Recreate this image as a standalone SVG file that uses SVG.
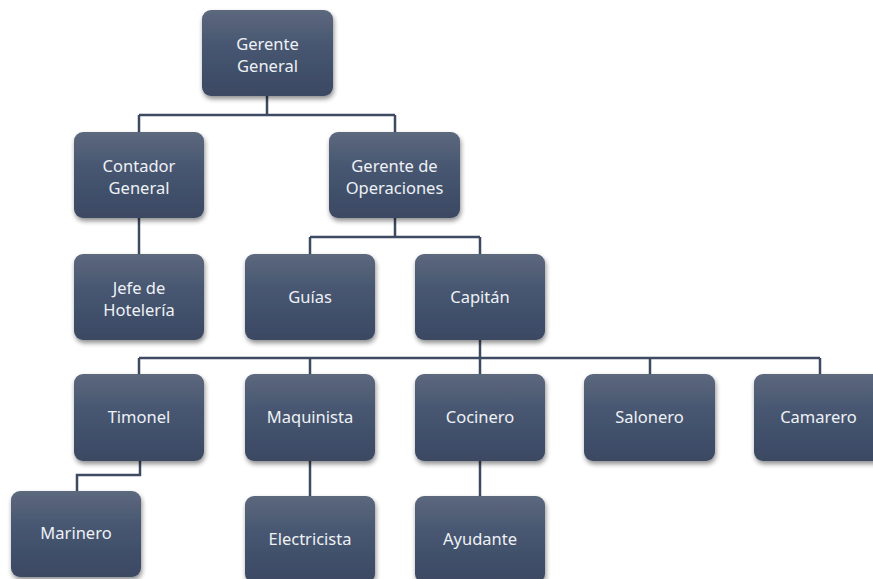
<svg xmlns="http://www.w3.org/2000/svg" width="873" height="579" viewBox="0 0 873 579">
<defs>
<linearGradient id="g" x1="0" y1="0" x2="0" y2="1">
<stop offset="0" stop-color="#5c687d"/>
<stop offset="0.45" stop-color="#465570"/>
<stop offset="1" stop-color="#3b4963"/>
</linearGradient>
<filter id="sh" x="-20%" y="-20%" width="140%" height="140%">
<feGaussianBlur in="SourceAlpha" stdDeviation="2.5"/>
<feOffset dx="1" dy="3" result="b"/>
<feComponentTransfer><feFuncA type="linear" slope="0.45"/></feComponentTransfer>
<feMerge><feMergeNode/><feMergeNode in="SourceGraphic"/></feMerge>
</filter>
</defs>
<style>
.box{fill:url(#g);filter:url(#sh)}
.t{font-family:"Noto Sans","Open Sans",sans-serif;font-size:16.5px;fill:#eef1f5;text-anchor:middle}
.c{fill:none;stroke:#3d4a62;stroke-width:2.5}
</style>
<rect width="873" height="579" fill="#ffffff"/>
<g id="connectors">
<path class="c" d="M267 96V115M139 115H395M139 115V132M395 115V132"/>
<path class="c" d="M139 218V254"/>
<path class="c" d="M395 218V237M310 237H480M310 237V254M480 237V254"/>
<path class="c" d="M480 340V358M139 358H820M139 358V374M310 358V374M480 358V374M650 358V374M820 358V374"/>
<path class="c" d="M140 461V475H77V491"/>
<path class="c" d="M310 461V496M480 461V496"/>
</g>
<g id="gerente-general"><rect class="box" x="202" y="10" width="131" height="86" rx="9"/><text class="t" x="267.5" y="50">Gerente</text><text class="t" x="267.5" y="72">General</text></g>
<g id="contador-general"><rect class="box" x="74" y="132" width="130" height="86" rx="9"/><text class="t" x="139" y="172">Contador</text><text class="t" x="139" y="194">General</text></g>
<g id="gerente-operaciones"><rect class="box" x="329" y="132" width="131" height="86" rx="9"/><text class="t" x="394.5" y="172">Gerente de</text><text class="t" x="394.5" y="194">Operaciones</text></g>
<g id="jefe-hoteleria"><rect class="box" x="74" y="254" width="130" height="86" rx="9"/><text class="t" x="139" y="294">Jefe de</text><text class="t" x="139" y="316">Hotelería</text></g>
<g id="guias"><rect class="box" x="245" y="254" width="130" height="86" rx="9"/><text class="t" x="310" y="303">Guías</text></g>
<g id="capitan"><rect class="box" x="415" y="254" width="130" height="86" rx="9"/><text class="t" x="480" y="303">Capitán</text></g>
<g id="timonel"><rect class="box" x="74" y="374" width="130" height="87" rx="9"/><text class="t" x="139" y="423">Timonel</text></g>
<g id="maquinista"><rect class="box" x="245" y="374" width="130" height="87" rx="9"/><text class="t" x="310" y="423">Maquinista</text></g>
<g id="cocinero"><rect class="box" x="415" y="374" width="130" height="87" rx="9"/><text class="t" x="480" y="423">Cocinero</text></g>
<g id="salonero"><rect class="box" x="584" y="374" width="131" height="87" rx="9"/><text class="t" x="649.5" y="423">Salonero</text></g>
<g id="camarero"><rect class="box" x="754" y="374" width="131" height="87" rx="9"/><text class="t" x="818.5" y="423">Camarero</text></g>
<g id="marinero"><rect class="box" x="11" y="491" width="130" height="86" rx="9"/><text class="t" x="76" y="539">Marinero</text></g>
<g id="electricista"><rect class="box" x="245" y="496" width="130" height="87" rx="9"/><text class="t" x="310" y="545">Electricista</text></g>
<g id="ayudante"><rect class="box" x="415" y="496" width="130" height="87" rx="9"/><text class="t" x="480" y="545">Ayudante</text></g>
</svg>
